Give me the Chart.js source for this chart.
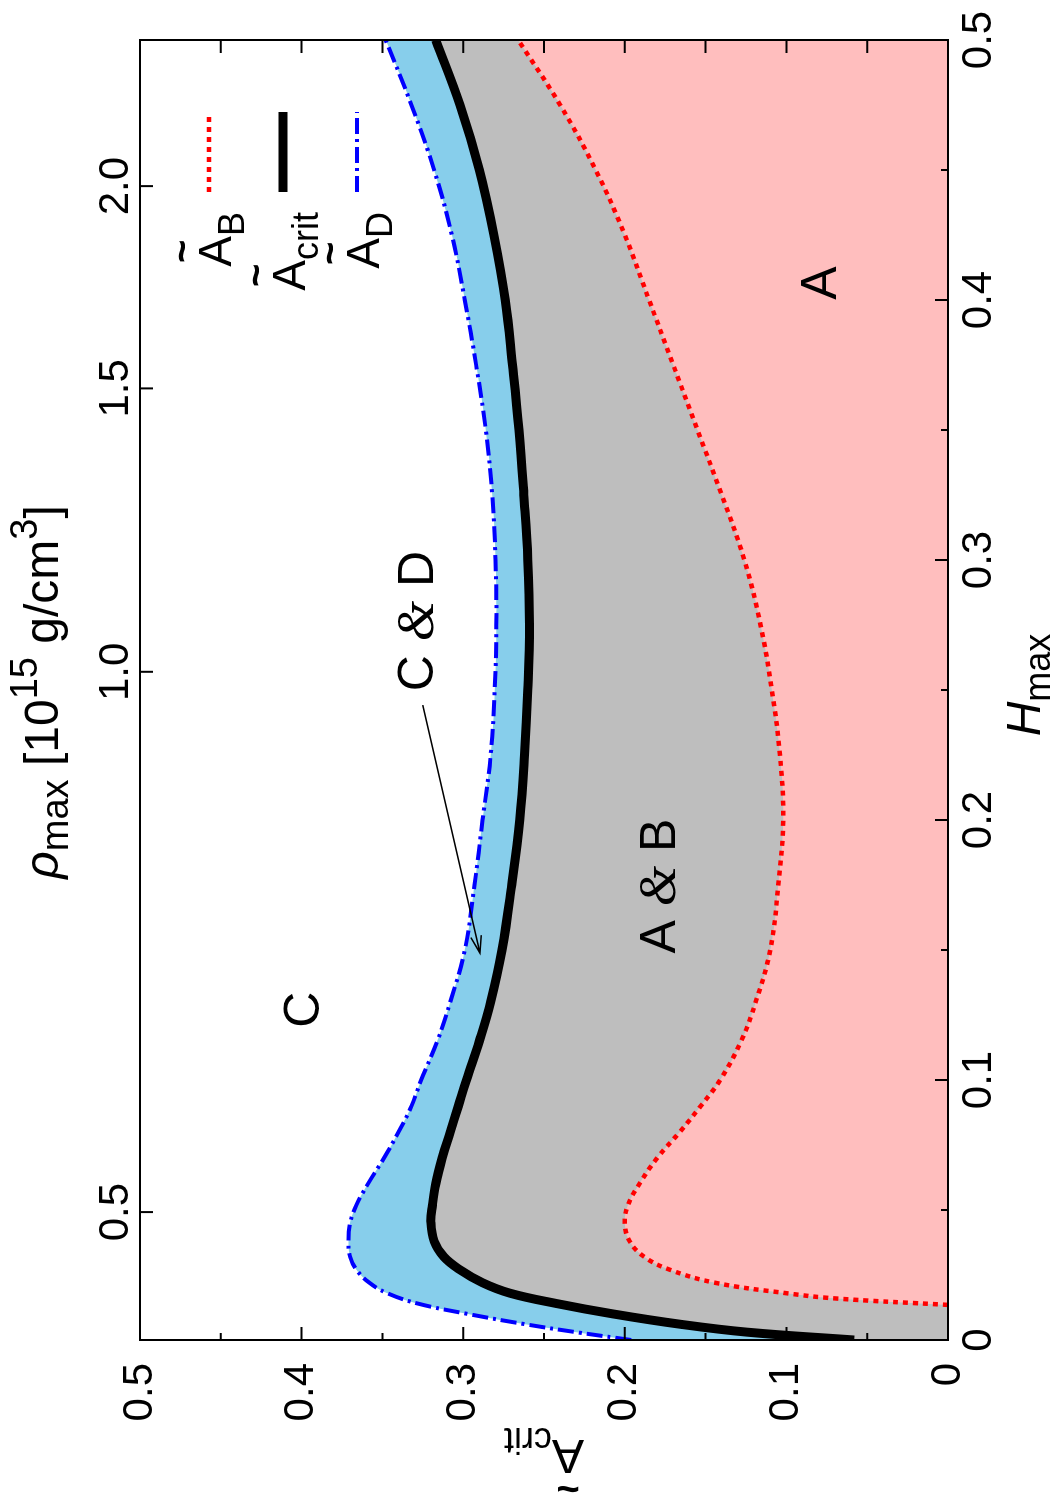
<!DOCTYPE html>
<html>
<head>
<meta charset="utf-8">
<script src="https://cdn.jsdelivr.net/npm/chart.js@4.4.0/dist/chart.umd.min.js"></script>
<style>
  html, body { margin: 0; padding: 0; background: #fff; overflow: hidden; }
  /* the figure is drawn landscape and turned a quarter turn counter-clockwise */
  #wrap { position: absolute; left: 0; top: 0; width: 1496px; height: 1053px;
          transform-origin: 0 0; transform: translateY(1496px) rotate(-90deg); }
</style>
</head>
<body>
<div id="wrap"><canvas id="myChart" width="1496" height="1053"></canvas></div>
<script>
// H_max grid shared by A_crit and A_D
const hMax = [0, 0.003, 0.006, 0.01, 0.014, 0.018, 0.022, 0.027, 0.032, 0.038, 0.045, 0.052, 0.06, 0.07, 0.08, 0.09, 0.1,
  0.115, 0.13, 0.15, 0.175, 0.2, 0.225, 0.25, 0.275, 0.3, 0.325, 0.35, 0.375, 0.4, 0.425, 0.45, 0.475, 0.5];
const aCrit = [0.058, 0.124, 0.165, 0.207, 0.242, 0.271, 0.288, 0.302, 0.312, 0.318, 0.320, 0.319, 0.317, 0.313, 0.308, 0.303, 0.298,
  0.290, 0.283, 0.276, 0.270, 0.265, 0.262, 0.260, 0.259, 0.260, 0.2625, 0.2655, 0.2695, 0.274, 0.281, 0.290, 0.302, 0.317];
const aD = [0.196, 0.230, 0.261, 0.297, 0.328, 0.347, 0.358, 0.366, 0.370, 0.371, 0.370, 0.366, 0.359, 0.349, 0.340, 0.332, 0.326,
  0.316, 0.308, 0.299, 0.293, 0.288, 0.283, 0.2805, 0.2795, 0.280, 0.282, 0.286, 0.292, 0.299, 0.307, 0.318, 0.332, 0.348];

// A_B starts where it leaves the H_max axis
const hB = [0.0135, 0.016, 0.018, 0.022, 0.027, 0.032, 0.038, 0.045, 0.052, 0.06, 0.07, 0.08, 0.09, 0.1, 0.115, 0.13,
  0.15, 0.175, 0.2, 0.225, 0.25, 0.275, 0.3, 0.325, 0.35, 0.375, 0.4, 0.425, 0.45, 0.475, 0.5];
const aB = [0, 0.070, 0.100, 0.144, 0.172, 0.188, 0.197, 0.200, 0.198, 0.191, 0.180, 0.166, 0.153, 0.141, 0.128, 0.119,
  0.110, 0.105, 0.102, 0.104, 0.109, 0.116, 0.126, 0.140, 0.155, 0.170, 0.185, 0.200, 0.218, 0.240, 0.266];

// top axis: rho_max ticks placed at their H_max values
const rhoTickH = [0.0492, 0.257, 0.366, 0.4438];
const rhoLabels = ['0.5', '1.0', '1.5', '2.0'];
const tickSteps = [0.05, 0.1, 0.15, 0.2, 0.25, 0.3, 0.35, 0.4, 0.45];

const FONT = '"Liberation Sans", Arial, Helvetica, sans-serif';
const SERIF = '"Liberation Serif", "Times New Roman", serif';
const PINK = '#ffbebe', GREY = '#bebebe', SKY = '#87ceeb';

const fmt = v => (Math.abs(v) < 1e-9 ? '0' : v.toFixed(1));
const pts = (xs, ys) => xs.map((x, i) => ({ x: x, y: ys[i] }));

// draws a run of text pieces (sub/superscripts, tilde accents)
function drawRich(ctx, parts, x, y, align, angle) {
    ctx.save();
    ctx.translate(x, y);
    if (angle) ctx.rotate(angle);
    ctx.textBaseline = 'alphabetic';
    ctx.textAlign = 'left';
    let w = 0;
    parts.forEach(p => { ctx.font = p.font; p.w = ctx.measureText(p.t).width; w += p.w; });
    let cx = align === 'center' ? -w / 2 : (align === 'right' ? -w : 0);
    parts.forEach(p => {
        ctx.font = p.font;
        ctx.fillText(p.t, cx, p.dy || 0);
        if (p.tilde) {
            ctx.font = 'bold 40px ' + FONT;
            ctx.textAlign = 'center';
            ctx.textBaseline = 'middle';
            ctx.fillText('~', cx + p.w / 2, -47);
            ctx.textAlign = 'left';
            ctx.textBaseline = 'alphabetic';
        }
        cx += p.w;
    });
    ctx.restore();
}

const big = '46px ' + FONT, small = '36px ' + FONT;
const lab = '50px ' + FONT, amp = 'italic 52px ' + SERIF;

const overlay = {
    id: 'overlay',
    afterDatasetsDraw(chart) {
        const ctx = chart.ctx, a = chart.chartArea;
        const sx = chart.scales.x, sy = chart.scales.y, sx2 = chart.scales.x2;
        ctx.save();
        ctx.fillStyle = '#000';
        ctx.strokeStyle = '#000';

        // frame and inward ticks
        ctx.lineWidth = 2;
        ctx.strokeRect(a.left, a.top, a.right - a.left, a.bottom - a.top);
        ctx.beginPath();
        tickSteps.forEach(v => {
            const major = Math.abs(v * 10 - Math.round(v * 10)) < 1e-6;
            const len = major ? 13 : 7;
            const px = sx.getPixelForValue(v);
            ctx.moveTo(px, a.bottom); ctx.lineTo(px, a.bottom - len);
            const py = sy.getPixelForValue(v);
            ctx.moveTo(a.left, py); ctx.lineTo(a.left + len, py);
            ctx.moveTo(a.right, py); ctx.lineTo(a.right - 13, py);
        });
        rhoTickH.forEach(h => {
            const px = sx2.getPixelForValue(h);
            ctx.moveTo(px, a.top); ctx.lineTo(px, a.top + 13);
        });
        ctx.stroke();

        // key
        const keys = [
            { sub: 'B', color: '#ff0000', width: 4.5, dash: [5, 5] },
            { sub: 'crit', color: '#000000', width: 9, dash: [] },
            { sub: 'D', color: '#0000ff', width: 4, dash: [16, 5, 3, 5] }
        ];
        keys.forEach((k, i) => {
            const y = a.top + 69 + 74 * i;
            ctx.save();
            ctx.strokeStyle = k.color;
            ctx.lineWidth = k.width;
            ctx.setLineDash(k.dash);
            ctx.beginPath();
            ctx.moveTo(a.right - 152, y); ctx.lineTo(a.right - 72, y);
            ctx.stroke();
            ctx.restore();
            drawRich(ctx, [{ t: 'A', font: big, tilde: true }, { t: k.sub, font: small, dy: 13 }], a.right - 172, y + 22, 'right');
        });

        // region labels
        ctx.font = lab;
        ctx.textAlign = 'center';
        ctx.textBaseline = 'middle';
        ctx.fillText('A', sx.getPixelForValue(0.4065), sy.getPixelForValue(0.078));
        ctx.fillText('C', sx.getPixelForValue(0.127), sy.getPixelForValue(0.398));
        drawRich(ctx, [{ t: 'A ', font: lab }, { t: '&', font: amp }, { t: ' B', font: lab }],
            sx.getPixelForValue(0.1746), sy.getPixelForValue(0.180) + 18, 'center');
        drawRich(ctx, [{ t: 'C ', font: lab }, { t: '&', font: amp }, { t: ' D', font: lab }],
            sx.getPixelForValue(0.2765), sy.getPixelForValue(0.330) + 18, 'center');

        // arrow to the thin C & D band
        const x0 = sx.getPixelForValue(0.2442), y0 = sy.getPixelForValue(0.325);
        const x1 = sx.getPixelForValue(0.1488), y1 = sy.getPixelForValue(0.2896);
        const ang = Math.atan2(y1 - y0, x1 - x0);
        ctx.lineWidth = 1.5;
        ctx.beginPath();
        ctx.moveTo(x0, y0); ctx.lineTo(x1, y1);
        ctx.moveTo(x1 - 18 * Math.cos(ang - 0.3), y1 - 18 * Math.sin(ang - 0.3));
        ctx.lineTo(x1, y1);
        ctx.lineTo(x1 - 18 * Math.cos(ang + 0.3), y1 - 18 * Math.sin(ang + 0.3));
        ctx.stroke();

        // axis titles
        const midX = (a.left + a.right) / 2, midY = (a.top + a.bottom) / 2;
        drawRich(ctx, [{ t: 'A', font: '48px ' + FONT, tilde: true }, { t: 'crit', font: small, dy: 12 }],
            56, midY, 'center', -Math.PI / 2);
        drawRich(ctx, [{ t: 'H', font: 'italic 48px ' + FONT }, { t: 'max', font: small, dy: 10 }],
            midX + 5, a.bottom + 92, 'center');
        drawRich(ctx, [
            { t: 'ρ', font: 'italic 48px ' + FONT },
            { t: 'max', font: '38px ' + FONT, dy: 10 },
            { t: ' [10', font: '48px ' + FONT },
            { t: '15', font: '38px ' + FONT, dy: -21 },
            { t: ' g/cm', font: '48px ' + FONT },
            { t: '3', font: '38px ' + FONT, dy: -21 },
            { t: ']', font: '48px ' + FONT }
        ], midX - 2, 58, 'center');
        ctx.restore();
    }
};

const tickFont = { family: FONT, size: 42, lineHeight: 1 };

const loadChart = () => {
    var ctx = document.getElementById('myChart').getContext('2d');
    var chart = new Chart(ctx, {
        type: 'line',
        data: {
            datasets: [{
                label: 'A_B',
                data: pts(hB, aB),
                borderColor: '#ff0000',
                borderWidth: 4.5,
                borderDash: [5, 5],
                backgroundColor: PINK,
                fill: 'origin'
            }, {
                label: 'A_crit',
                data: pts(hMax, aCrit),
                borderColor: '#000000',
                borderWidth: 9,
                backgroundColor: GREY,
                fill: 'origin'
            }, {
                label: 'A_D',
                data: pts(hMax, aD),
                borderColor: '#0000ff',
                borderWidth: 4,
                borderDash: [16, 5, 3, 5],
                backgroundColor: SKY,
                fill: '-1'
            }]
        },
        options: {
            responsive: false,
            animation: false,
            layout: { padding: { left: 0, right: 40, top: 0, bottom: 0 } },
            elements: {
                point: { radius: 0 },
                line: { tension: 0.4, borderCapStyle: 'butt' }
            },
            plugins: {
                legend: { display: false },
                tooltip: { enabled: false },
                filler: { drawTime: 'beforeDatasetsDraw' }
            },
            scales: {
                x: {
                    type: 'linear', position: 'bottom', min: 0, max: 0.5,
                    afterFit: s => { s.height = 105; },
                    grid: { display: false, drawTicks: false }, border: { display: false },
                    ticks: { stepSize: 0.1, padding: 10, color: '#000', font: tickFont, maxRotation: 0, callback: fmt }
                },
                x2: {
                    type: 'linear', position: 'top', min: 0, max: 0.5,
                    afterFit: s => { s.height = 140; },
                    afterBuildTicks: s => { s.ticks = rhoTickH.map(v => ({ value: v })); },
                    grid: { display: false, drawTicks: false }, border: { display: false },
                    ticks: { padding: 3, color: '#000', font: tickFont, maxRotation: 0, autoSkip: false,
                        callback: (v, i) => rhoLabels[i] }
                },
                y: {
                    type: 'linear', position: 'left', min: 0, max: 0.5,
                    afterFit: s => { s.width = 156; },
                    grid: { display: false, drawTicks: false }, border: { display: false },
                    ticks: { stepSize: 0.1, padding: 23, color: '#000', font: tickFont, callback: fmt }
                }
            }
        },
        plugins: [overlay]
    });
}

loadChart();
</script>
</body>
</html>
